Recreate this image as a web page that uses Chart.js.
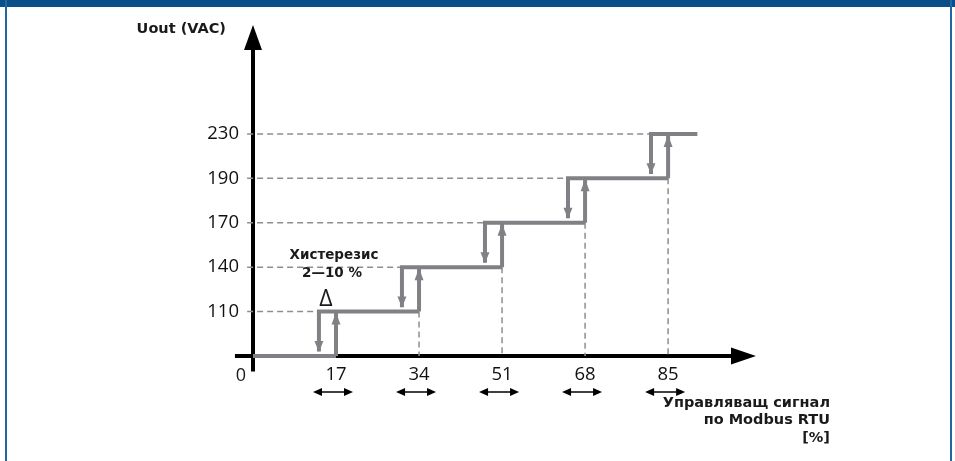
<!DOCTYPE html>
<html>
<head>
<meta charset="utf-8">
<script src="https://cdn.jsdelivr.net/npm/chart.js@4.4.1/dist/chart.umd.min.js"></script>
<style>
  html, body { margin: 0; padding: 0; background: #fff; }
  #wrap { position: relative; width: 955px; height: 461px; overflow: hidden; }
  #bar { position: absolute; left: 0; top: 0; width: 955px; height: 7px; background: #0b4f88; }
  .side { position: absolute; top: 0; width: 2px; height: 461px; background: #2364a3; }
  canvas { position: absolute; left: 0; top: 0; }
</style>
</head>
<body>
<div id="wrap">
  <canvas id="chart" width="955" height="461"></canvas>
  <div id="bar"></div>
  <div class="side" style="left:5px"></div>
  <div class="side" style="left:950px"></div>
</div>
<script>
// стъпала на изходното напрежение, VAC (0 = изключено)
const levels = [0, 110, 140, 170, 190, 230];
// прагове на управляващия сигнал, %
const switchUp = [17, 34, 51, 68, 85];
const switchDown = [13.5, 30.5, 47.5, 64.5, 81.5];
const lastEnd = 91;
const xTicks = [0, 17, 34, 51, 68, 85];

const GRAY = '#808184';
const DASH = '#8e8e8e';

// стъпаловидната крива (y = номер на стъпалото)
const steps = [{ x: 0, y: 0 }, { x: switchUp[0], y: 0 }, { x: 0, y: null }];
for (let i = 0; i < switchUp.length; i++) {
  steps.push({ x: switchUp[i], y: i }, { x: switchUp[i], y: i + 1 }, { x: switchUp[i], y: null });
  const end = i < switchUp.length - 1 ? switchUp[i + 1] : lastEnd;
  steps.push({ x: switchDown[i], y: i + 0.1 }, { x: switchDown[i], y: i + 1 }, { x: end, y: i + 1 }, { x: end, y: null });
}

// пунктирни помощни линии
const guides = [];
for (let i = 1; i < levels.length; i++) {
  guides.push({ x: -1.2, y: i }, { x: switchDown[i - 1], y: i }, { x: 0, y: null });
}
for (let i = 1; i < switchUp.length; i++) {
  guides.push({ x: switchUp[i], y: i }, { x: switchUp[i], y: 0 }, { x: 0, y: null });
}

function tri(ctx, x, y, dir, len, half) {
  ctx.beginPath();
  ctx.moveTo(x, y);
  ctx.lineTo(x - half, y - dir * len);
  ctx.lineTo(x + half, y - dir * len);
  ctx.closePath();
  ctx.fill();
}
function triH(ctx, x, y, dir, len, half) {
  ctx.beginPath();
  ctx.moveTo(x, y);
  ctx.lineTo(x - dir * len, y - half);
  ctx.lineTo(x - dir * len, y + half);
  ctx.closePath();
  ctx.fill();
}

const decor = {
  id: 'decor',
  beforeDatasetsDraw(chart) {
    const { ctx, scales: { x, y } } = chart;
    const x0 = x.getPixelForValue(0), y0 = y.getPixelForValue(0);
    ctx.save();
    ctx.strokeStyle = '#000';
    ctx.fillStyle = '#000';
    ctx.lineWidth = 4;
    // оси
    ctx.beginPath();
    ctx.moveTo(x.getPixelForValue(-3.7), y0);
    ctx.lineTo(x.getPixelForValue(103) - 22, y0);
    ctx.moveTo(x0, y.getPixelForValue(-0.35));
    ctx.lineTo(x0, y.getPixelForValue(7.45) + 22);
    ctx.stroke();
    triH(ctx, x.getPixelForValue(103), y0, 1, 25, 8.5);
    tri(ctx, x0, y.getPixelForValue(7.45), -1, 25, 9);
    ctx.restore();
  },
  afterDatasetsDraw(chart) {
    const { ctx, scales: { x, y } } = chart;
    ctx.save();
    // стрелки на хистерезиса
    ctx.fillStyle = GRAY;
    for (let i = 0; i < switchUp.length; i++) {
      tri(ctx, x.getPixelForValue(switchUp[i]), y.getPixelForValue(i + 1) + 1, -1, 12, 4.5);
      tri(ctx, x.getPixelForValue(switchDown[i]), y.getPixelForValue(i) - 4, 1, 11, 4.5);
    }
    // двойни стрелки под праговете
    ctx.fillStyle = '#000';
    ctx.strokeStyle = '#000';
    ctx.lineWidth = 1.5;
    const ay = 392;
    switchUp.forEach(t => {
      const c = x.getPixelForValue(t) - 3;
      ctx.beginPath();
      ctx.moveTo(c - 14, ay);
      ctx.lineTo(c + 14, ay);
      ctx.stroke();
      triH(ctx, c - 20, ay, -1, 9, 4);
      triH(ctx, c + 20, ay, 1, 9, 4);
    });
    // текстове
    ctx.fillStyle = '#1a1a1a';
    ctx.textBaseline = 'middle';
    ctx.font = '18px "Open Sans"';
    ctx.textAlign = 'center';
    ctx.fillText('0', x.getPixelForValue(0) - 12, 376);
    ctx.font = '23px "Open Sans"';
    ctx.fillText('Δ', 326, 299);
    ctx.font = 'bold 13.5px "DejaVu Sans"';
    ctx.fillText('Хистерезис', 334, 255);
    ctx.fillText('2—10 %', 332, 273);
    ctx.textAlign = 'right';
    ctx.font = 'bold 14.5px "DejaVu Sans"';
    ctx.fillText('Uout (VAC)', 226, 29);
    ctx.fillText('Управляващ сигнал', 830, 403);
    ctx.fillText('по Modbus RTU', 830, 420);
    ctx.fillText('[%]', 830, 438);
    ctx.restore();
  }
};

new Chart(document.getElementById('chart'), {
  type: 'line',
  data: {
    datasets: [
      {
        data: steps,
        borderColor: GRAY,
        borderWidth: 4,
        pointRadius: 0,
        spanGaps: false,
        borderCapStyle: 'butt',
        borderJoinStyle: 'miter',
        clip: false
      },
      {
        data: guides,
        borderColor: DASH,
        borderWidth: 1.5,
        borderDash: [6, 4],
        pointRadius: 0,
        spanGaps: false,
        clip: false
      }
    ]
  },
  options: {
    responsive: false,
    animation: false,
    events: [],
    layout: { padding: { left: 193, right: 199, top: 20, bottom: 65 } },
    plugins: { legend: { display: false }, tooltip: { enabled: false } },
    scales: {
      x: {
        type: 'linear',
        min: 0,
        max: 103,
        afterBuildTicks: s => { s.ticks = xTicks.slice(1).map(v => ({ value: v })); },
        afterFit: s => { s.height = 40; },
        grid: { display: false, drawTicks: false },
        border: { display: false },
        ticks: {
          autoSkip: false,
          maxRotation: 0,
          padding: 8,
          color: '#111',
          font: { family: 'Open Sans', size: 18.5 }
        }
      },
      y: {
        type: 'linear',
        min: 0,
        max: 7.45,
        afterBuildTicks: s => { s.ticks = levels.slice(1).map((v, i) => ({ value: i + 1 })); },
        afterFit: s => { s.width = 60; },
        grid: { display: false, drawTicks: false },
        border: { display: false },
        ticks: {
          autoSkip: false,
          padding: 14,
          color: '#111',
          font: { family: 'Open Sans', size: 18.5 },
          callback: v => levels[v]
        }
      }
    }
  },
  plugins: [decor]
});
</script>
</body>
</html>
